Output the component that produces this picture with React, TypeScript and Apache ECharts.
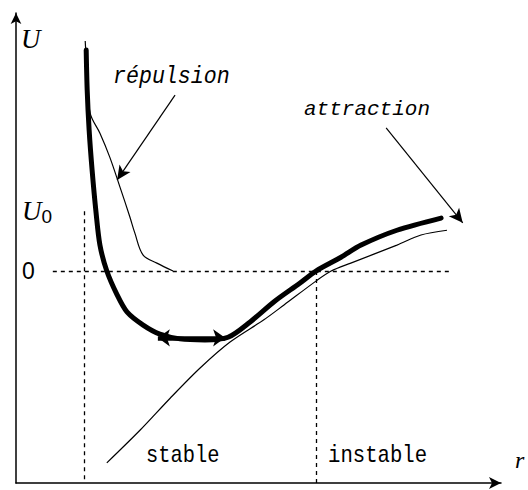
import React, { useEffect, useRef } from "react";
import * as echarts from "echarts";

// Potential energy U(r) of a pair interaction: total curve (thick),
// its repulsive and attractive parts (thin).
const totalR = [1.43, 1.45, 1.49, 1.55, 1.63, 1.71, 1.85, 2.06, 2.26, 2.59, 2.93, 3.34, 3.85, 4.32, 4.77, 5.27, 5.78, 6.11, 6.62, 7.03, 7.76, 8.66];
const totalU = [4.17, 3.42, 2.66, 1.91, 1.11, 0.49, 0, -0.45, -0.77, -1.02, -1.19, -1.28, -1.3, -1.25, -0.96, -0.57, -0.23, 0, 0.26, 0.49, 0.77, 1.0];

const repulsionR = [1.41, 1.45, 1.51, 1.71, 1.91, 2.12, 2.32, 2.42, 2.59, 2.87, 3.2];
const repulsionU = [4.34, 3.7, 2.98, 2.6, 2.15, 1.58, 1.02, 0.72, 0.3, 0.15, 0];

const attractionR = [1.85, 2.53, 3.14, 3.75, 4.36, 5.05, 5.46, 6.11, 6.42, 6.82, 7.76, 8.25, 8.78];
const attractionU = [-3.62, -3.0, -2.4, -1.83, -1.34, -0.92, -0.64, -0.19, 0, 0.15, 0.49, 0.68, 0.77];

// Reference levels and marks
const U0 = 1.13;
const rU0 = 1.385; // where the total curve reaches U0
const rCross = 6.11; // where the total curve crosses zero
const zeroLineFrom = 0.75;
const zeroLineTo = 8.88;
const stableRange = [2.89, 4.26];
const stableLevel = -1.26;

// Callout arrows: [from, to]
const repulsionArrow = [[3.24, 3.32], [2.06, 1.72]];
const attractionArrow = [[7.54, 2.7], [9.1, 0.91]];

const xMin = 0;
const xMax = 9.88;
const yMin = -4;
const yMax = 4.87;

const pairs = (xs: number[], ys: number[]) => xs.map((x, i) => [x, ys[i]]);

export default function App() {
  const ref = useRef<HTMLDivElement>(null);

  useEffect(() => {
    if (!ref.current) return;
    const chart = echarts.init(ref.current, null, { renderer: "svg" });
    const mono = "'Liberation Mono', 'DejaVu Sans Mono', monospace";
    const serif = "'Liberation Serif', 'DejaVu Serif', serif";

    chart.setOption({
      animation: false,
      backgroundColor: "#fff",
      grid: { left: 16, right: 27, top: 13, bottom: 7 },
      xAxis: {
        type: "value",
        min: xMin,
        max: xMax,
        name: "r",
        nameLocation: "end",
        nameGap: 14,
        nameTextStyle: {
          fontFamily: serif,
          fontStyle: "italic",
          fontSize: 24,
          color: "#000",
          align: "left",
          verticalAlign: "bottom",
          padding: [0, 0, 11, 0],
        },
        axisLine: {
          onZero: false,
          symbol: ["none", "arrow"],
          symbolSize: [9, 12],
          lineStyle: { color: "#000", width: 1.5 },
        },
        axisTick: { show: false },
        axisLabel: { show: false },
        splitLine: { show: false },
      },
      yAxis: {
        type: "value",
        min: yMin,
        max: yMax,
        name: "U",
        nameLocation: "end",
        nameGap: -12,
        nameTextStyle: {
          fontFamily: serif,
          fontStyle: "italic",
          fontSize: 27,
          color: "#000",
          align: "left",
          verticalAlign: "top",
          padding: [0, 0, 0, 5],
        },
        axisLine: {
          onZero: false,
          symbol: ["none", "arrow"],
          symbolSize: [8, 11],
          lineStyle: { color: "#000", width: 1.5 },
        },
        axisTick: { show: false },
        splitLine: { show: false },
        axisLabel: {
          inside: true,
          margin: 6,
          customValues: [0, U0],
          color: "#000",
          formatter: (v: number) => (v === 0 ? "{z|0}" : "{u|U}{s|0}"),
          rich: {
            z: { fontFamily: "'Liberation Sans', sans-serif", fontSize: 23, color: "#000" },
            u: { fontFamily: serif, fontStyle: "italic", fontSize: 27, color: "#000" },
            s: {
              fontFamily: "'Liberation Sans', sans-serif",
              fontSize: 19,
              color: "#000",
              padding: [10, 0, 0, 0],
            },
          },
        },
      },
      series: [
        {
          name: "répulsion",
          type: "line",
          data: pairs(repulsionR, repulsionU),
          showSymbol: false,
          smooth: 0.35,
          lineStyle: { color: "#000", width: 1.2 },
          z: 2,
        },
        {
          name: "attraction",
          type: "line",
          data: pairs(attractionR, attractionU),
          showSymbol: false,
          smooth: 0.3,
          lineStyle: { color: "#000", width: 1.2 },
          z: 2,
        },
        {
          name: "U",
          type: "line",
          data: pairs(totalR, totalU),
          showSymbol: false,
          smooth: 0.3,
          lineStyle: { color: "#000", width: 5, cap: "round", join: "round" },
          z: 3,
        },
        {
          name: "guides",
          type: "line",
          data: [],
          markLine: {
            silent: true,
            symbol: ["none", "none"],
            label: { show: false },
            lineStyle: { color: "#000", width: 1.3, type: [4, 4] },
            data: [
              [{ coord: [zeroLineFrom, 0] }, { coord: [zeroLineTo, 0] }],
              [{ coord: [rU0, U0] }, { coord: [rU0, yMin] }],
              [{ coord: [rCross, 0] }, { coord: [rCross, yMin] }],
            ],
          },
          z: 1,
        },
        {
          name: "callouts",
          type: "line",
          data: [],
          markLine: {
            silent: true,
            symbol: ["none", "arrow"],
            symbolSize: [10, 14],
            label: { show: false },
            lineStyle: { color: "#000", width: 1.2, type: "solid" },
            data: [
              [{ coord: repulsionArrow[0] }, { coord: repulsionArrow[1] }],
              [{ coord: attractionArrow[0] }, { coord: attractionArrow[1] }],
            ],
          },
          z: 4,
        },
        {
          name: "stable range",
          type: "line",
          data: [],
          markLine: {
            silent: true,
            symbol: ["arrow", "arrow"],
            symbolSize: [13, 12],
            label: { show: false },
            lineStyle: { color: "#000", width: 4.5, type: "solid" },
            data: [[{ coord: [stableRange[0], stableLevel] }, { coord: [stableRange[1], stableLevel] }]],
          },
          z: 4,
        },
      ],
      graphic: [
        {
          type: "text",
          x: 113,
          y: 77,
          scaleX: 0.9,
          style: { text: "répulsion", fontFamily: mono, fontStyle: "italic", fontSize: 24, fill: "#000", align: "left", verticalAlign: "middle" },
        },
        {
          type: "text",
          x: 304,
          y: 109,
          scaleX: 1.0,
          style: { text: "attraction", fontFamily: mono, fontStyle: "italic", fontSize: 21, fill: "#000", align: "left", verticalAlign: "middle" },
        },
        {
          type: "text",
          x: 146,
          y: 456,
          scaleX: 0.85,
          style: { text: "stable", fontFamily: mono, fontSize: 24, fill: "#000", align: "left", verticalAlign: "middle" },
        },
        {
          type: "text",
          x: 328,
          y: 456,
          scaleX: 0.86,
          style: { text: "instable", fontFamily: mono, fontSize: 24, fill: "#000", align: "left", verticalAlign: "middle" },
        },
      ],
    });

    return () => chart.dispose();
  }, []);

  return <div ref={ref} style={{ position: "fixed", left: 0, top: 0, width: 528, height: 490 }} />;
}
